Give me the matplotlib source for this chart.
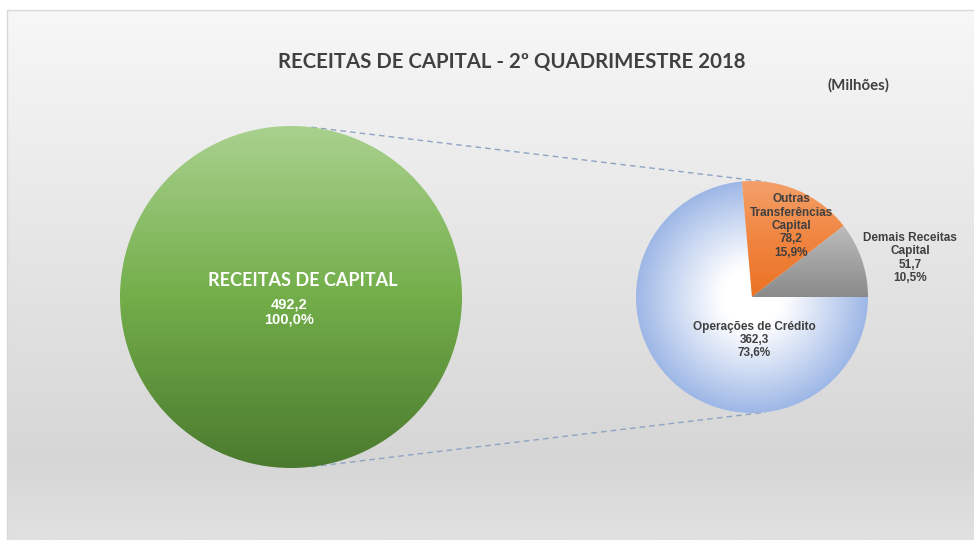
import numpy as np
import matplotlib
matplotlib.use("Agg")
import matplotlib.pyplot as plt
from matplotlib.colors import LinearSegmentedColormap, to_rgb

# --- Data ---
title = "RECEITAS DE CAPITAL - 2º QUADRIMESTRE 2018"
unit_label = "(Milhões)"
total_name = "RECEITAS DE CAPITAL"
total_value = 492.2
part_names = ["Operações de Crédito", "Outras\nTransferências\nCapital", "Demais Receitas\nCapital"]
part_values = [362.3, 78.2, 51.7]

# --- Layout (pixel coords, y measured from bottom) ---
W, H = 974, 540
big_c, big_r = (291, H - 297), 171
small_c, small_r = (752, H - 297), 116

TEXT = "#404040"
NARROW = ["Lato", "DejaVu Sans"]
ARIAL = ["Liberation Sans", "DejaVu Sans"]


def fmt(v):
    return f"{v:.1f}".replace(".", ",")


def vgrad(colors, n=256):
    cmap = LinearSegmentedColormap.from_list("g", colors)
    col = cmap(np.linspace(0, 1, n))[:, :3]
    return np.repeat(col[:, None, :], 2, axis=1)


def fill_patch(ax, patch, img):
    b = patch.get_path().get_extents()
    im = ax.imshow(img, extent=(b.x0, b.x1, b.y0, b.y1), origin="upper",
                   interpolation="bilinear", zorder=patch.get_zorder())
    im.set_clip_path(patch)
    patch.set_facecolor("none")


fig = plt.figure(figsize=(W / 100, H / 100), dpi=100)
fig.set_facecolor("white")
ax = fig.add_axes([0, 0, 1, 1])

# chart area background gradient
bg = vgrad([(0, "#f7f7f7"), (0.85, "#d6d6d6"), (1.0, "#e1e1e1")])
ax.imshow(bg, extent=(7, W, 0, H - 10), origin="upper", interpolation="bilinear", zorder=0)
ax.plot([7, 7, W], [0, H - 10, H - 10], color="#d9d9d9", lw=1, zorder=1)

# big circle (total)
big_w, _ = ax.pie([total_value], center=big_c, radius=big_r, startangle=90,
                  wedgeprops=dict(linewidth=0), frame=True)
for w in big_w:
    w.set_zorder(2)
    fill_patch(ax, w, vgrad(["#a9d18e", "#73ae4a", "#4b7a2e"]))

# secondary pie
small_w, _ = ax.pie(part_values, center=small_c, radius=small_r, startangle=0,
                    counterclock=False, wedgeprops=dict(linewidth=0), frame=True)
for w in small_w:
    w.set_zorder(2)

# Operações de Crédito: radial white -> light blue
n = 300
yy, xx = np.mgrid[-1:1:n * 1j, -1:1:n * 1j]
t = np.clip(np.hypot(xx, yy), 0, 1)
t = np.clip((t - 0.25) / 0.75, 0, 1)
c0, c1 = np.array(to_rgb("#ffffff")), np.array(to_rgb("#9db7e6"))
radial = c0 + (c1 - c0) * t[..., None] ** 1.1
blue = small_w[0]
im = ax.imshow(radial, extent=(small_c[0] - small_r, small_c[0] + small_r,
                               small_c[1] - small_r, small_c[1] + small_r),
               origin="upper", interpolation="bilinear", zorder=2)
im.set_clip_path(blue)
blue.set_facecolor("none")

fill_patch(ax, small_w[1], vgrad(["#f4a06a", "#f08540", "#eb7223"]))
fill_patch(ax, small_w[2], vgrad(["#bdbdbd", "#a3a3a3", "#8a8a8a"]))

# connector lines: external tangents of the two circles
dx = small_c[0] - big_c[0]
phi = np.arcsin((big_r - small_r) / dx)
for s in (1, -1):
    ang = s * (np.pi / 2 - phi)
    p1 = (big_c[0] + big_r * np.cos(ang), big_c[1] + big_r * np.sin(ang))
    p2 = (small_c[0] + small_r * np.cos(ang), small_c[1] + small_r * np.sin(ang))
    ax.plot([p1[0], p2[0]], [p1[1], p2[1]], color="#8fa3c2", lw=1,
            ls=(0, (4, 3)), zorder=1.5)

# titles
ax.text(512, H - 62, title, ha="center", va="center", fontsize=14.7,
        fontweight="bold", color=TEXT, family=NARROW)
ax.text(858, H - 85, unit_label, ha="center", va="center", fontsize=10.8,
        fontweight="bold", color=TEXT, family=NARROW)

# big circle labels
ax.text(303, H - 281, total_name, ha="center", va="center", fontsize=13,
        fontweight="bold", color="white", family=NARROW, zorder=5)
ax.text(289, H - 312, f"{fmt(total_value)}\n{fmt(100.0)}%", ha="center",
        va="center", fontsize=10.5, fontweight="bold", color="white",
        family=ARIAL, linespacing=1.15, zorder=5)

# secondary pie labels
total = sum(part_values)
label_pos = [(754, H - 340), (791, H - 226), (910, H - 258)]
for name, v, (x, y) in zip(part_names, part_values, label_pos):
    ax.text(x, y, f"{name}\n{fmt(v)}\n{fmt(100 * v / total)}%", ha="center",
            va="center", fontsize=8.5, fontweight="bold", color=TEXT,
            family=ARIAL, linespacing=1.15, zorder=5)

ax.set_xlim(0, W)
ax.set_ylim(0, H)
ax.set_aspect("auto")
ax.axis("off")

fig.savefig("out.png", dpi=100, facecolor=fig.get_facecolor())
plt.close(fig)
